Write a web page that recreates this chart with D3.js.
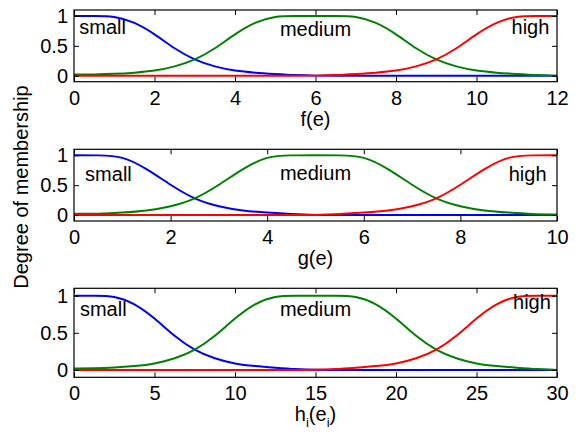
<!DOCTYPE html>
<html>
<head>
<meta charset="utf-8">
<script src="https://cdn.jsdelivr.net/npm/d3@7"></script>
<style>
  body { margin: 0; background: #fff; }
  svg text { font-family: "Liberation Sans", Arial, sans-serif; }
</style>
</head>
<body>
<div id="chart"></div>
<script>
// panel 1: f(e)
const xF = [0, 0.5, 1, 1.5, 2, 2.5, 3, 3.5, 4, 4.5, 5, 5.5, 6, 6.5, 7, 7.5, 8, 8.5, 9, 9.5, 10, 10.5, 11, 11.5, 12];
const smallF = [1, 1, 1, 0.9, 0.7, 0.45, 0.26, 0.15, 0.08, 0.05, 0.03, 0.01, 0, 0, 0, 0, 0, 0, 0, 0, 0, 0, 0, 0, 0];
const mediumF = [0.02, 0.02, 0.03, 0.05, 0.08, 0.15, 0.26, 0.45, 0.7, 0.9, 1, 1, 1, 1, 1, 0.9, 0.7, 0.45, 0.26, 0.15, 0.08, 0.05, 0.03, 0.01, 0];
const highF = [0, 0, 0, 0, 0, 0, 0, 0, 0, 0, 0, 0, 0, 0.01, 0.03, 0.05, 0.08, 0.15, 0.26, 0.45, 0.7, 0.9, 1, 1, 1];
const xTicksF = [0, 2, 4, 6, 8, 10, 12];

// panel 2: g(e)
const xG = [0, 0.5, 1, 1.5, 2, 2.5, 3, 3.5, 4, 4.5, 5, 5.5, 6, 6.5, 7, 7.5, 8, 8.5, 9, 9.5, 10];
const smallG = [1, 1, 0.99, 0.78, 0.5, 0.26, 0.14, 0.07, 0.04, 0.015, 0, 0, 0, 0, 0, 0, 0, 0, 0, 0, 0];
const mediumG = [0.02, 0.02, 0.04, 0.07, 0.14, 0.26, 0.5, 0.78, 0.99, 1, 1, 1, 0.99, 0.78, 0.5, 0.26, 0.14, 0.07, 0.04, 0.015, 0.01];
const highG = [0, 0, 0, 0, 0, 0, 0, 0, 0, 0, 0, 0.015, 0.04, 0.07, 0.14, 0.26, 0.5, 0.78, 0.99, 1, 1];
const xTicksG = [0, 2, 4, 6, 8, 10];

// panel 3: h_i(e_i)
const xH = [0, 1.25, 2.5, 3.75, 5, 6.25, 7.5, 8.75, 10, 11.25, 12.5, 13.75, 15, 16.25, 17.5, 18.75, 20, 21.25, 22.5, 23.75, 25, 26.25, 27.5, 28.75, 30];
const smallH = [1, 1, 1, 0.9, 0.7, 0.45, 0.26, 0.15, 0.08, 0.05, 0.03, 0.01, 0, 0, 0, 0, 0, 0, 0, 0, 0, 0, 0, 0, 0];
const mediumH = [0.02, 0.02, 0.03, 0.05, 0.08, 0.15, 0.26, 0.45, 0.7, 0.9, 1, 1, 1, 1, 1, 0.9, 0.7, 0.45, 0.26, 0.15, 0.08, 0.05, 0.03, 0.01, 0];
const highH = [0, 0, 0, 0, 0, 0, 0, 0, 0, 0, 0, 0, 0, 0.01, 0.03, 0.05, 0.08, 0.15, 0.26, 0.45, 0.7, 0.9, 1, 1, 1];
const xTicksH = [0, 5, 10, 15, 20, 25, 30];

const yTicks = [0, 0.5, 1];
const setNames = ["small", "medium", "high"];
const setColors = ["#0000ff", "#008000", "#ff0000"];

const width = 579, height = 434;
const left = 74, right = 557;
const fontSize = 20;

const svg = d3.select("#chart")
  .append("svg")
  .attr("width", width)
  .attr("height", height);

const panels = [
  { top: 10, h: 71.7, x: xF, series: [smallF, mediumF, highF], domain: [0, 12], ticks: xTicksF,
    label: [["f(e)", false]],
    names: [[0.13, 0.7, "start"], [6, 0.66, "middle"], [10.87, 0.69, "start"]] },
  { top: 149.3, h: 71.7, x: xG, series: [smallG, mediumG, highG], domain: [0, 10], ticks: xTicksG,
    label: [["g(e)", false]],
    names: [[0.23, 0.57, "start"], [5, 0.58, "middle"], [9, 0.57, "start"]] },
  { top: 288.3, h: 89, x: xH, series: [smallH, mediumH, highH], domain: [0, 30], ticks: xTicksH,
    label: [["h", false], ["i", true], ["(e", false], ["i", true], [")", false]],
    names: [[0.37, 0.72, "start"], [15, 0.72, "middle"], [27.27, 0.82, "start"]] }
];

panels.forEach(p => {
  const xScale = d3.scaleLinear().domain(p.domain).range([left, right]);
  const yScale = d3.scaleLinear().domain([-0.1, 1.1]).range([p.top + p.h, p.top]);
  const bottom = p.top + p.h;

  const g = svg.append("g");

  // lines
  const line = d3.line()
    .x((d, i) => xScale(p.x[i]))
    .y(d => yScale(d))
    .curve(d3.curveBasis);

  p.series.forEach((s, k) => {
    g.append("path")
      .datum(s)
      .attr("d", line)
      .attr("fill", "none")
      .attr("stroke", setColors[k])
      .attr("stroke-width", 2);
  });

  // set names
  p.names.forEach((n, k) => {
    g.append("text")
      .attr("x", xScale(n[0]))
      .attr("y", yScale(n[1]))
      .attr("text-anchor", n[2])
      .attr("font-size", fontSize)
      .attr("fill", "#000")
      .text(setNames[k]);
  });

  // axes, ticks pointing inward
  const xAxis = d3.axisBottom(xScale).tickValues(p.ticks).tickSizeInner(-5).tickSizeOuter(0).tickPadding(9).tickFormat(d => String(d));
  const xTop = d3.axisTop(xScale).tickValues(p.ticks).tickSizeInner(-5).tickSizeOuter(0).tickFormat("");
  const yAxis = d3.axisLeft(yScale).tickValues(yTicks).tickSizeInner(-5).tickSizeOuter(0).tickPadding(6).tickFormat(d => String(d));
  const yRight = d3.axisRight(yScale).tickValues(yTicks).tickSizeInner(-5).tickSizeOuter(0).tickFormat("");

  [[xAxis, `translate(0,${bottom})`], [xTop, `translate(0,${p.top})`],
   [yAxis, `translate(${left},0)`], [yRight, `translate(${right},0)`]].forEach(a => {
    const ax = g.append("g")
      .attr("transform", a[1])
      .call(a[0]);
    ax.attr("font-family", null).attr("font-size", fontSize);
    ax.select(".domain").remove();
    ax.selectAll("line").attr("stroke", "#000");
    ax.selectAll("text").attr("fill", "#000");
  });

  g.append("rect")
    .attr("x", left)
    .attr("y", p.top)
    .attr("width", right - left)
    .attr("height", p.h)
    .attr("fill", "none")
    .attr("stroke", "#000")
    .attr("stroke-width", 1.2);

  // x axis label, with subscripts where needed
  const lab = g.append("text")
    .attr("x", (left + right) / 2)
    .attr("y", bottom + 44)
    .attr("text-anchor", "middle")
    .attr("font-size", fontSize)
    .attr("fill", "#000");
  let shifted = false;
  p.label.forEach(part => {
    const sub = part[1];
    let dy = null;
    if (sub && !shifted) { dy = 6; shifted = true; }
    if (!sub && shifted) { dy = -6; shifted = false; }
    lab.append("tspan")
      .attr("font-size", sub ? 13 : fontSize)
      .attr("dy", dy)
      .text(part[0]);
  });
});

svg.append("text")
  .attr("transform", "translate(28,187) rotate(-90)")
  .attr("text-anchor", "middle")
  .attr("font-size", fontSize)
  .attr("fill", "#000")
  .text("Degree of membership");
</script>
</body>
</html>
